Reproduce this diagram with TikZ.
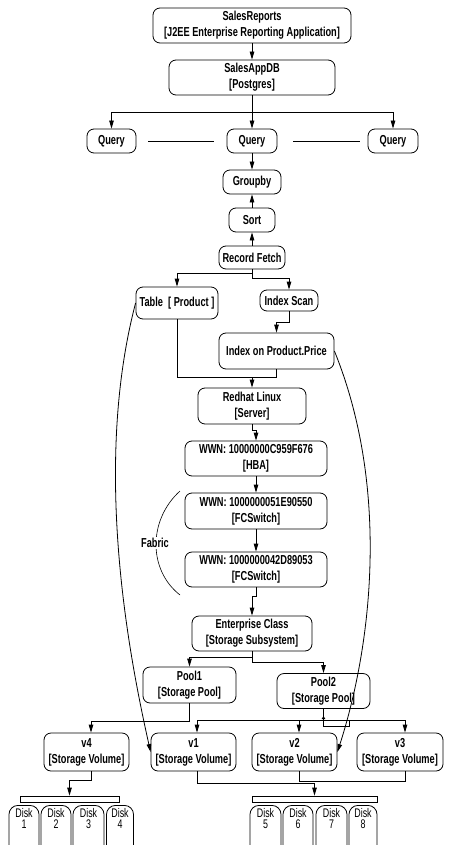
\documentclass[tikz,border=0pt]{standalone}
\usepackage{fontspec}
\setmainfont{Liberation Sans}[FakeStretch=0.71]
\usetikzlibrary{arrows.meta,calc}
\newcommand\boxfont{\fontsize{13}{16}\selectfont\bfseries}
\newcommand\diskfont{\fontsize{12.5}{11.5}\selectfont}
\tikzset{
  sz/.style 2 args={minimum width=#1pt, minimum height=#2pt},
  box/.style={draw, rounded corners=7pt, align=center, inner sep=0pt,
              line width=0.8pt, font=\boxfont},
  wire/.style={line width=0.8pt},
  arr/.style={wire, -{Triangle[length=8pt,width=4.5pt]}},
  bar/.style={draw, line width=0.8pt, inner sep=0pt},
  disk/.style={draw, rounded corners=9pt, align=center, anchor=north,
               inner xsep=0pt, inner ysep=3pt, line width=0.8pt,
               font=\diskfont},
}
\begin{document}
\begin{tikzpicture}[x=1pt,y=-1pt]
\useasboundingbox (0,0) rectangle (449,845);
\clip (0,0) rectangle (449,845);

% application and database
\node[box,sz={198}{35}] (rep) at (252,25.5) {SalesReports\\{}[J2EE Enterprise Reporting Application]};
\node[box,sz={166}{35}] (db)  at (252,77.5) {SalesAppDB\\{}[Postgres]};

% query plan
\node[box,sz={49}{24}] (q1) at (111.5,141) {Query};
\node[box,sz={50}{24}] (q2) at (252,141) {Query};
\node[box,sz={50}{24}] (q3) at (393,141) {Query};
\node[box,sz={58}{24}] (grp) at (252,182) {Groupby};
\node[box,sz={46}{24}] (srt) at (252,220) {Sort};
\node[box,sz={66}{23}] (rf)  at (252,257.5) {Record Fetch};
\node[box,sz={82}{32}] (tbl) at (177,303) {Table~ [ Product ]};
\node[box,sz={58}{21}] (isc) at (289,300.5) {Index Scan};
\node[box,sz={115}{36}] (idx) at (276.5,351) {Index on Product.Price};

% server and fabric
\node[box,sz={108}{36}] (rh)  at (252,406) {Redhat Linux\\{}[Server]};
\node[box,sz={142}{35}] (hba) at (256,458.5) {WWN: 10000000C959F676\\{}[HBA]};
\node[box,sz={142}{36}] (fc1) at (256,511) {WWN: 1000000051E90550\\{}[FCSwitch]};
\node[box,sz={142}{35}] (fc2) at (256,569.5) {WWN: 1000000042D89053\\{}[FCSwitch]};

% storage
\node[box,sz={120}{35}] (ent) at (252,633.5) {Enterprise Class\\{}[Storage Subsystem]};
\node[box,sz={93}{36}] (p1) at (189.5,685) {Pool1\\{}[Storage Pool]};
\node[box,sz={93}{35}] (p2) at (323.5,691) {Pool2\\{}[Storage Pool]};
\node[box,sz={85}{38}] (v4) at (86.5,752) {v4\\{}[Storage Volume]};
\node[box,sz={85}{38}] (v1) at (193.5,752) {v1\\{}[Storage Volume]};
\node[box,sz={85}{38}] (v2) at (294.5,752) {v2\\{}[Storage Volume]};
\node[box,sz={86}{38}] (v3) at (400,752) {v3\\{}[Storage Volume]};

% disk groups
\node[bar,sz={99}{6}]  (barL) at (69.5,799) {};
\node[bar,sz={125}{6}] (barR) at (314.5,799) {};
\node[disk,minimum width=30pt] (d1) at (24,805)    {Disk\\1\\\rule{0pt}{32pt}};
\node[disk,minimum width=30pt] (d2) at (56,805)    {Disk\\2\\\rule{0pt}{32pt}};
\node[disk,minimum width=31pt] (d3) at (88.5,805)  {Disk\\3\\\rule{0pt}{32pt}};
\node[disk,minimum width=27pt] (d4) at (120,805)   {Disk\\4\\\rule{0pt}{32pt}};
\node[disk,minimum width=31pt] (d5) at (265.5,805) {Disk\\5\\\rule{0pt}{32pt}};
\node[disk,minimum width=30pt] (d6) at (298,805)   {Disk\\6\\\rule{0pt}{32pt}};
\node[disk,minimum width=31pt] (d7) at (331.5,805) {Disk\\7\\\rule{0pt}{32pt}};
\node[disk,minimum width=28pt] (d8) at (363,805)   {Disk\\8\\\rule{0pt}{32pt}};

% connectors: application to queries
\draw[arr] (rep) -- (db);
\coordinate (j1) at (252,112);
\draw[wire] (db.south) -- (j1);
\draw[arr] (j1) -| (q1.north);
\draw[arr] (j1) -| (q3.north);
\draw[arr] (j1) -- (q2.north);
\draw[wire] ($(q1.east)+(12,0)$) -- ($(q2.west)+(-13,0)$);
\draw[wire] ($(q2.east)+(16,0)$) -- ($(q3.west)+(-8,0)$);

% connectors: plan operators
\draw[arr] (q2) -- (grp);
\draw[arr] (srt) -- (grp);
\draw[arr] (rf) -- (srt);
\coordinate (j2) at (252,273.7);
\coordinate (j3) at (252,278);
\draw[arr] (rf.south) -- (j2) -| (tbl.north);
\draw[arr] (rf.south) -- (j3) -| (isc.north);
\coordinate (j4) at (289,322);
\draw[arr] (isc.south) -- (j4) -| (idx.north);
\coordinate (j5) at (252,377);
\draw[arr] (tbl.south) |- (j5) -- (rh.north);
\draw[wire] (idx.south) |- (j5);

% connectors: host and fabric
\coordinate (j6) at (252,430);
\draw[arr] (rh.south) -- (j6) -| (hba.north);
\draw[arr] (hba) -- (fc1);
\draw[arr] (fc1) -- (fc2);
\coordinate (j7) at (256,596);
\draw[arr] (fc2.south) -- (j7) -| (ent.north);

% fabric bracket
\coordinate (fa) at (180,491);
\coordinate (fb) at (180,595);
\draw[line width=0.6pt] (fa) .. controls (148,520) and (148,570) .. (fb);
\node[fill=white, inner sep=1pt, font=\boxfont] (fab) at (155,543) {Fabric};

% connectors: subsystem, pools, volumes
\coordinate (j8) at (252,657);
\coordinate (j9) at (252,662);
\draw[arr] (ent.south) -- (j8) -| (p1.north);
\draw[arr] (ent.south) -- (j9) -| (p2.north);
\coordinate (j10) at (189.5,721);
\draw[arr] (p1.south) -- (j10) -| ([xshift=4.5pt]v4.north);
\coordinate (j11) at (323.5,720);
\draw[wire] (p2.south) -- (j11);
\draw[arr] (j11) -| ([xshift=3.5pt]v1.north);
\draw[arr] (j11) -| ([xshift=4.5pt]v2.north);
\draw[arr] (j11) -| ([xshift=5pt]v3.north);
\coordinate (l1) at (349,720);
\coordinate (l2) at (323.5,716);
\draw[wire, -{Triangle[open,length=3pt,width=3.5pt]}] (l1) |- (323.5,726) -- (l2);

% long mappings from tables and indexes to volumes
\draw[arr] (tbl.west) .. controls (92,469) and (130,660) .. (v1.west);
\draw[arr] (idx.east) .. controls (390,488) and (372,645) .. (v2.east);

% connectors: volumes to disk groups
\coordinate (j12) at (91,780);
\draw[arr] ([xshift=4.5pt]v4.south) -- (j12) -| (barL.north);
\coordinate (j13) at (299,781);
\draw[wire] ([xshift=4.5pt]v2.south) -- (j13) -| ([xshift=5pt]v3.south);
\coordinate (j14) at (197,783);
\draw[arr] ([xshift=3.5pt]v1.south) -- (j14) -| (barR.north);
\end{tikzpicture}
\end{document}
